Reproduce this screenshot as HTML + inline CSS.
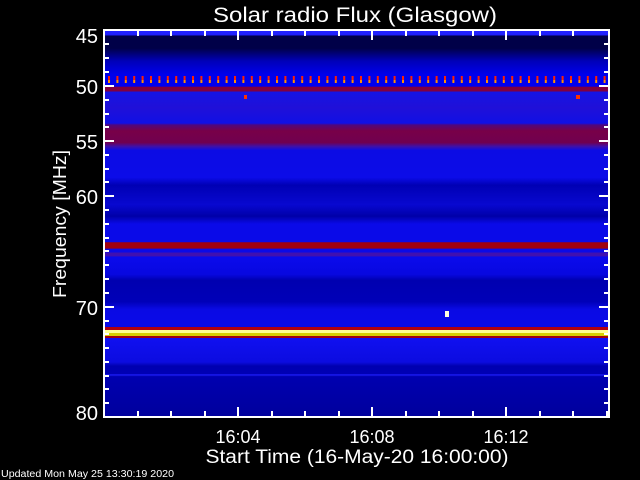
<!DOCTYPE html>
<html><head><meta charset="utf-8"><style>
html,body{margin:0;padding:0;background:#000;}
svg{display:block;}
text{font-family:"Liberation Sans",sans-serif;fill:#fff;}
</style></head><body>
<svg width="640" height="480" viewBox="0 0 640 480" xmlns="http://www.w3.org/2000/svg">
<defs>
<linearGradient id="bg" x1="0" y1="30" x2="0" y2="418" gradientUnits="userSpaceOnUse">
<stop offset="0" stop-color="#2020ff"/>
<stop offset="0.012" stop-color="#2020ff"/>
<stop offset="0.016" stop-color="#000048"/>
<stop offset="0.047" stop-color="#000048"/>
<stop offset="0.08" stop-color="#0000b8"/>
<stop offset="0.115" stop-color="#0000ec"/>
<stop offset="0.145" stop-color="#0000f0"/>
<stop offset="0.147" stop-color="#800040"/>
<stop offset="0.157" stop-color="#800040"/>
<stop offset="0.16" stop-color="#1414e4"/>
<stop offset="0.2" stop-color="#2010d8"/>
<stop offset="0.24" stop-color="#1010e4"/>
<stop offset="0.245" stop-color="#50087c"/>
<stop offset="0.26" stop-color="#780048"/>
<stop offset="0.29" stop-color="#700050"/>
<stop offset="0.3" stop-color="#4010a8"/>
<stop offset="0.31" stop-color="#0c0ce4"/>
<stop offset="0.38" stop-color="#0c0ce8"/>
<stop offset="0.40" stop-color="#0000b4"/>
<stop offset="0.45" stop-color="#0808d0"/>
<stop offset="0.48" stop-color="#0000a8"/>
<stop offset="0.50" stop-color="#0a0ae8"/>
<stop offset="0.546" stop-color="#0a0ae8"/>
<stop offset="0.548" stop-color="#a00010"/>
<stop offset="0.562" stop-color="#a00010"/>
<stop offset="0.565" stop-color="#0a0ae8"/>
<stop offset="0.572" stop-color="#0a0ae8"/>
<stop offset="0.575" stop-color="#4010b0"/>
<stop offset="0.582" stop-color="#4010b0"/>
<stop offset="0.585" stop-color="#0a0aec"/>
<stop offset="0.63" stop-color="#0808e0"/>
<stop offset="0.645" stop-color="#0000b0"/>
<stop offset="0.70" stop-color="#0000b8"/>
<stop offset="0.72" stop-color="#0a0ae4"/>
<stop offset="0.76" stop-color="#0a0ae8"/>
<stop offset="0.768" stop-color="#0808e0"/>
</linearGradient>
<linearGradient id="bg2" x1="0" y1="338" x2="0" y2="418" gradientUnits="userSpaceOnUse">
<stop offset="0" stop-color="#1010f0"/>
<stop offset="0.3" stop-color="#0c0ce0"/>
<stop offset="0.35" stop-color="#0000b0"/>
<stop offset="0.45" stop-color="#0000b4"/>
<stop offset="0.46" stop-color="#2020ff"/>
<stop offset="0.48" stop-color="#0000b0"/>
<stop offset="1" stop-color="#00009c"/>
</linearGradient>
<pattern id="dots" x="108" y="76" width="8.4" height="8" patternUnits="userSpaceOnUse">
<rect x="0" y="0" width="2" height="4" fill="#ff2000"/>
<rect x="0" y="4" width="2" height="3" fill="#ff9000"/>
</pattern>
</defs>
<rect x="104" y="30" width="506" height="388" fill="url(#bg)"/>
<rect x="104" y="338" width="506" height="80" fill="url(#bg2)"/>
<rect x="104" y="327" width="506" height="3" fill="#b00010"/>
<rect x="104" y="330" width="506" height="3" fill="#ffff90"/>
<rect x="104" y="333" width="506" height="3" fill="#d8d000"/>
<rect x="104" y="336" width="506" height="2" fill="#a00010"/>
<rect x="107" y="76" width="500" height="7" fill="url(#dots)"/>
<rect x="244" y="95" width="3" height="4" fill="#ff3000"/>
<rect x="576" y="95" width="4" height="4" fill="#ff3000"/>
<rect x="445" y="311" width="4" height="6" fill="#ffffe0"/>
<g stroke="#fff" stroke-width="2" fill="none">
<rect x="104" y="30" width="505" height="387"/>
</g>
<g stroke="#fff" stroke-width="2">
<line x1="104" y1="86" x2="114" y2="86"/><line x1="609" y1="86" x2="599" y2="86"/>
<line x1="104" y1="141" x2="114" y2="141"/><line x1="609" y1="141" x2="599" y2="141"/>
<line x1="104" y1="196" x2="114" y2="196"/><line x1="609" y1="196" x2="599" y2="196"/>
<line x1="104" y1="307" x2="114" y2="307"/><line x1="609" y1="307" x2="599" y2="307"/>
<g>
<line x1="104" y1="44" x2="109" y2="44"/><line x1="104" y1="58" x2="109" y2="58"/><line x1="104" y1="72" x2="109" y2="72"/>
<line x1="104" y1="100" x2="109" y2="100"/><line x1="104" y1="114" x2="109" y2="114"/><line x1="104" y1="127" x2="109" y2="127"/>
<line x1="104" y1="155" x2="109" y2="155"/><line x1="104" y1="169" x2="109" y2="169"/><line x1="104" y1="182" x2="109" y2="182"/>
<line x1="104" y1="210" x2="109" y2="210"/><line x1="104" y1="224" x2="109" y2="224"/><line x1="104" y1="238" x2="109" y2="238"/>
<line x1="104" y1="251" x2="109" y2="251"/><line x1="104" y1="265" x2="109" y2="265"/><line x1="104" y1="279" x2="109" y2="279"/><line x1="104" y1="293" x2="109" y2="293"/>
<line x1="104" y1="321" x2="109" y2="321"/><line x1="104" y1="334" x2="109" y2="334"/><line x1="104" y1="348" x2="109" y2="348"/><line x1="104" y1="362" x2="109" y2="362"/><line x1="104" y1="376" x2="109" y2="376"/><line x1="104" y1="389" x2="109" y2="389"/><line x1="104" y1="403" x2="109" y2="403"/>
</g>
<g>
<line x1="609" y1="44" x2="604" y2="44"/><line x1="609" y1="58" x2="604" y2="58"/><line x1="609" y1="72" x2="604" y2="72"/>
<line x1="609" y1="100" x2="604" y2="100"/><line x1="609" y1="114" x2="604" y2="114"/><line x1="609" y1="127" x2="604" y2="127"/>
<line x1="609" y1="155" x2="604" y2="155"/><line x1="609" y1="169" x2="604" y2="169"/><line x1="609" y1="182" x2="604" y2="182"/>
<line x1="609" y1="210" x2="604" y2="210"/><line x1="609" y1="224" x2="604" y2="224"/><line x1="609" y1="238" x2="604" y2="238"/>
<line x1="609" y1="251" x2="604" y2="251"/><line x1="609" y1="265" x2="604" y2="265"/><line x1="609" y1="279" x2="604" y2="279"/><line x1="609" y1="293" x2="604" y2="293"/>
<line x1="609" y1="321" x2="604" y2="321"/><line x1="609" y1="334" x2="604" y2="334"/><line x1="609" y1="348" x2="604" y2="348"/><line x1="609" y1="362" x2="604" y2="362"/><line x1="609" y1="376" x2="604" y2="376"/><line x1="609" y1="389" x2="604" y2="389"/><line x1="609" y1="403" x2="604" y2="403"/>
</g>
<g>
<line x1="138" y1="417" x2="138" y2="411"/><line x1="171" y1="417" x2="171" y2="411"/><line x1="205" y1="417" x2="205" y2="411"/><line x1="238" y1="417" x2="238" y2="407"/>
<line x1="272" y1="417" x2="272" y2="411"/><line x1="305" y1="417" x2="305" y2="411"/><line x1="339" y1="417" x2="339" y2="411"/><line x1="372" y1="417" x2="372" y2="407"/>
<line x1="406" y1="417" x2="406" y2="411"/><line x1="439" y1="417" x2="439" y2="411"/><line x1="473" y1="417" x2="473" y2="411"/><line x1="506" y1="417" x2="506" y2="407"/>
<line x1="540" y1="417" x2="540" y2="411"/><line x1="573" y1="417" x2="573" y2="411"/><line x1="607" y1="417" x2="607" y2="411"/>
<line x1="138" y1="30" x2="138" y2="36"/><line x1="171" y1="30" x2="171" y2="36"/><line x1="205" y1="30" x2="205" y2="36"/><line x1="238" y1="30" x2="238" y2="40"/>
<line x1="272" y1="30" x2="272" y2="36"/><line x1="305" y1="30" x2="305" y2="36"/><line x1="339" y1="30" x2="339" y2="36"/><line x1="372" y1="30" x2="372" y2="40"/>
<line x1="406" y1="30" x2="406" y2="36"/><line x1="439" y1="30" x2="439" y2="36"/><line x1="473" y1="30" x2="473" y2="36"/><line x1="506" y1="30" x2="506" y2="40"/>
<line x1="540" y1="30" x2="540" y2="36"/><line x1="573" y1="30" x2="573" y2="36"/>
</g>
</g>
<text x="355" y="22" font-size="21" text-anchor="middle" textLength="284" lengthAdjust="spacingAndGlyphs">Solar radio Flux (Glasgow)</text>
<g font-size="20" text-anchor="end">
<text x="98" y="43">45</text>
<text x="98" y="94">50</text>
<text x="98" y="149">55</text>
<text x="98" y="204">60</text>
<text x="98" y="315">70</text>
<text x="98" y="420">80</text>
</g>
<g font-size="18" text-anchor="middle">
<text x="238" y="443">16:04</text>
<text x="372" y="443">16:08</text>
<text x="506" y="443">16:12</text>
</g>
<text x="357" y="463" font-size="19" text-anchor="middle" textLength="303" lengthAdjust="spacingAndGlyphs">Start Time (16-May-20 16:00:00)</text>
<text transform="translate(66,224) rotate(-90)" font-size="18" text-anchor="middle" textLength="148" lengthAdjust="spacingAndGlyphs">Frequency [MHz]</text>
<text x="1" y="477" font-size="10" textLength="173" lengthAdjust="spacingAndGlyphs">Updated Mon May 25 13:30:19 2020</text>
</svg>
</body></html>
